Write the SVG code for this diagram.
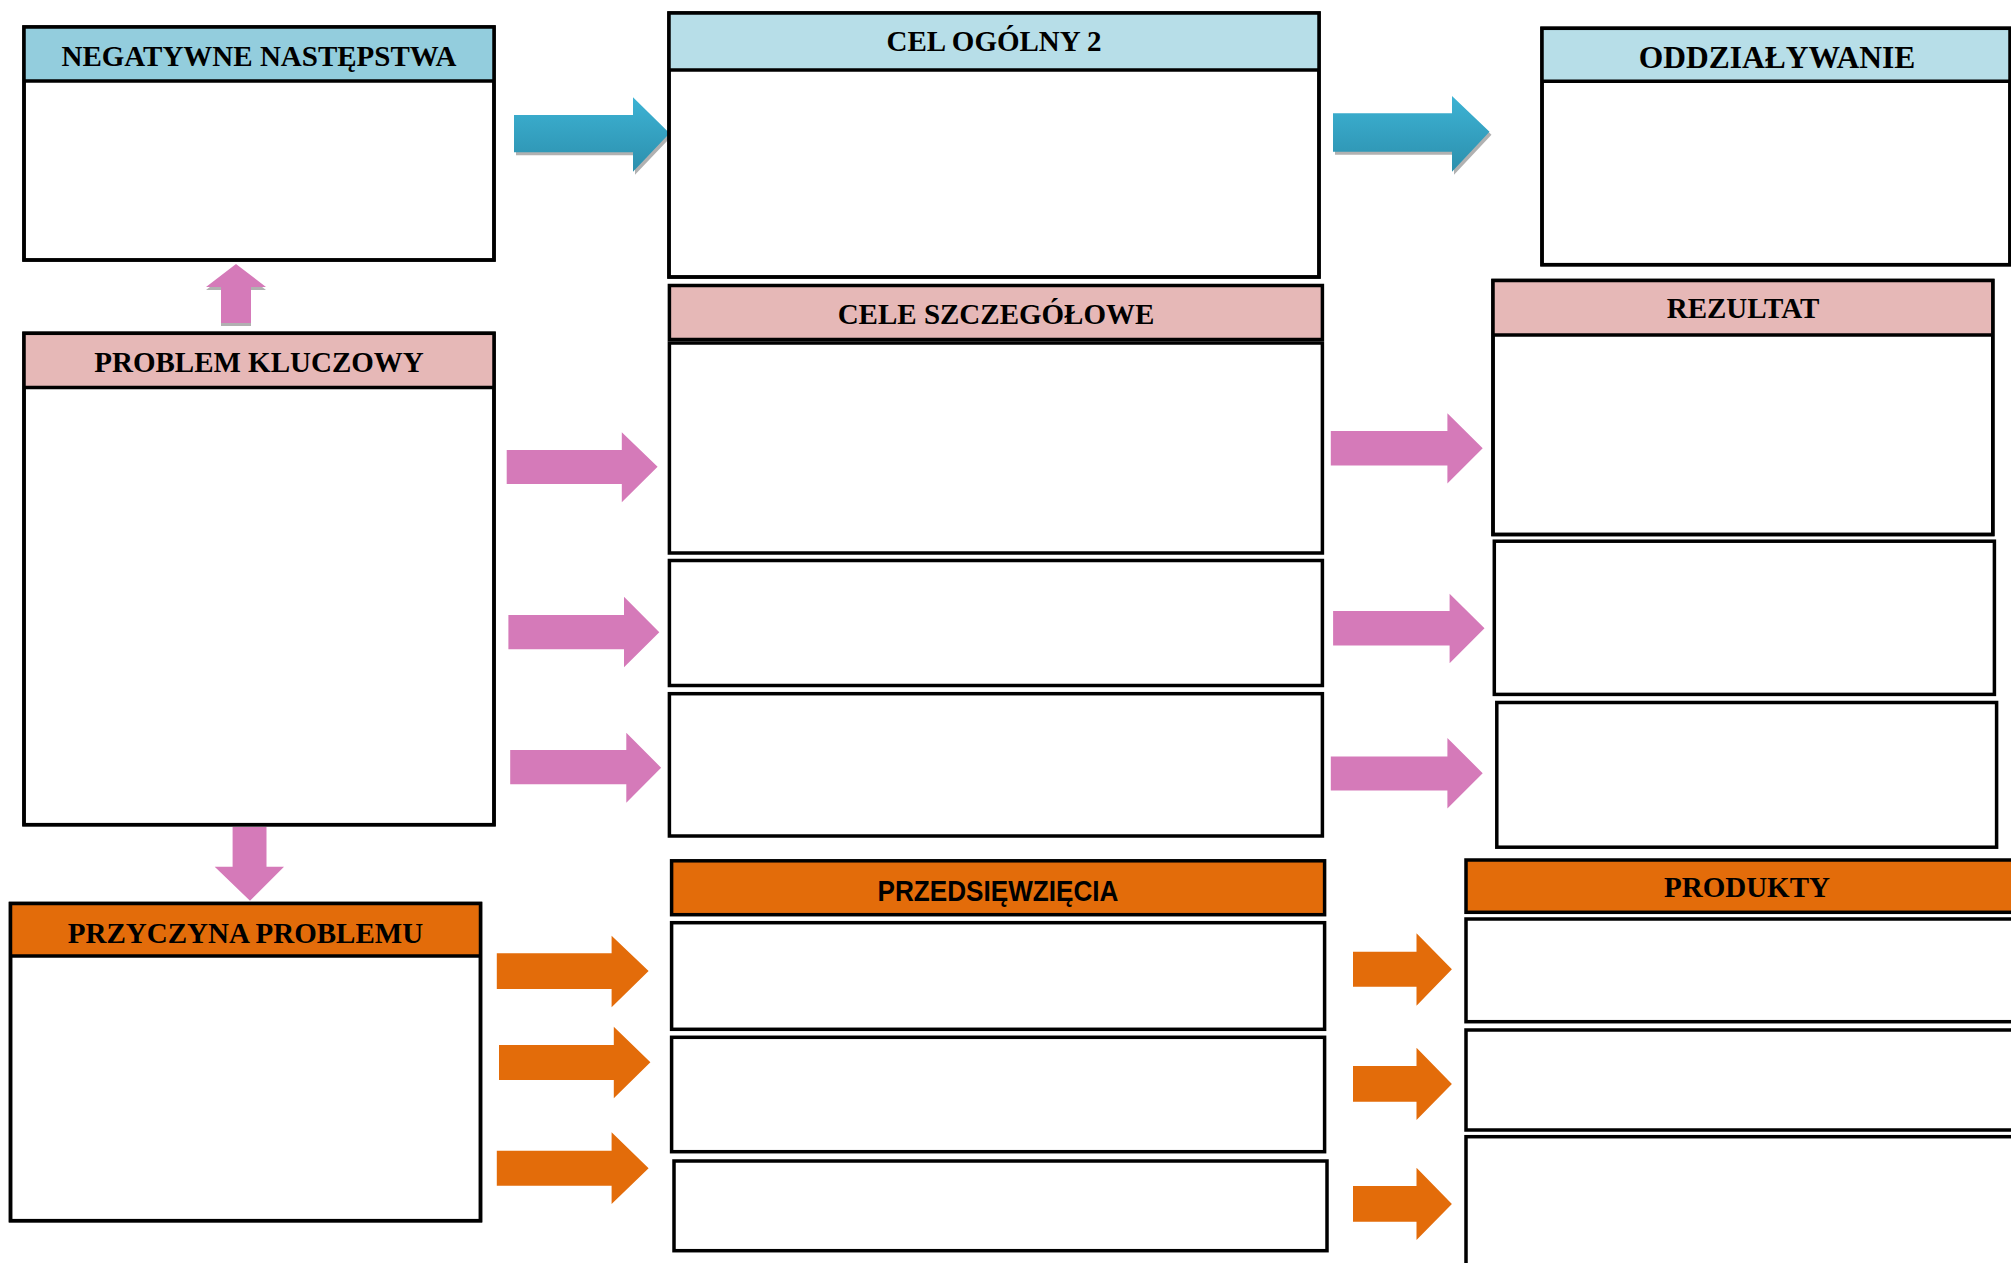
<svg xmlns="http://www.w3.org/2000/svg" width="2011" height="1263" viewBox="0 0 2011 1263">
<style>
.box{fill:#ffffff;stroke:#000000;stroke-width:3.5}
.hdr{stroke:#000000;stroke-width:3.5}
.div{stroke:#000000;stroke-width:3.5;fill:none}
.blue1{fill:#93CDDD}
.blue2{fill:#B7DEE8}
.pinkh{fill:#E6B8B7}
.orangeh{fill:#E36C0A}
.t{font-family:"Liberation Serif","Times New Roman",serif;font-weight:bold;font-size:29px;fill:#000000;text-anchor:middle}
.ts{font-family:"Liberation Sans",Arial,sans-serif;font-weight:bold;font-size:29px;fill:#000000}
.pa{fill:#D57AB9}
.oa{fill:#E36C0A}
.ba{fill:url(#blueGrad)}
.sh{fill:#9E9E9E;opacity:0.8}
</style>
<defs>
<linearGradient id="blueGrad" x1="0" y1="0" x2="0" y2="1">
<stop offset="0" stop-color="#3DB3D4"/>
<stop offset="1" stop-color="#2C8FAD"/>
</linearGradient>
</defs>
<rect x="0" y="0" width="2011" height="1263" fill="#ffffff"/>

<g id="connectors">
<!-- blue arrows with shadow -->
<polygon class="sh" transform="translate(2,3)" points="514,115 633,115 633,97.3 669.6,133.3 633,171.7 633,152.3 514,152.3"/>
<polygon class="ba" points="514,115 633,115 633,97.3 669.6,133.3 633,171.7 633,152.3 514,152.3"/>
<polygon class="sh" transform="translate(2,3)" points="1333,113.3 1452,113.3 1452,96 1489.5,131.7 1452,171.7 1452,151.7 1333,151.7"/>
<polygon class="ba" points="1333,113.3 1452,113.3 1452,96 1489.5,131.7 1452,171.7 1452,151.7 1333,151.7"/>
<!-- pink up arrow -->
<polygon class="sh" transform="translate(0,3)" points="236,264 266,287 251,287 251,323 221,323 221,287 206,287"/>
<polygon class="pa" points="236,264 266,287 251,287 251,323 221,323 221,287 206,287"/>
<!-- pink down arrow -->
<polygon class="pa" points="232.6,827 266.5,827 266.5,866.7 284,866.7 250,900.7 214.7,866.7 232.6,866.7"/>
<!-- pink left-to-middle -->
<polygon class="pa" points="506.7,450 621.8,450 621.8,432.3 657.6,466.7 621.8,502.3 621.8,484 506.7,484"/>
<polygon class="pa" points="508.4,615 624,615 624,596.7 659.3,632.3 624,667.3 624,649.3 508.4,649.3"/>
<polygon class="pa" points="510.2,750 626.3,750 626.3,732.7 661.1,767.7 626.3,802.7 626.3,784.3 510.2,784.3"/>
<!-- pink middle-to-right -->
<polygon class="pa" points="1330.8,431 1447.4,431 1447.4,413.2 1482.7,448.3 1447.4,483.5 1447.4,465.4 1330.8,465.4"/>
<polygon class="pa" points="1333.1,611.1 1449.6,611.1 1449.6,593.8 1484.5,628.2 1449.6,663.3 1449.6,645.6 1333.1,645.6"/>
<polygon class="pa" points="1330.8,756.6 1447.4,756.6 1447.4,738 1482.7,773.2 1447.4,808.4 1447.4,790.6 1330.8,790.6"/>
<!-- orange left-to-middle -->
<polygon class="oa" points="496.8,953.3 611.6,953.3 611.6,935.7 648.6,971 611.6,1007.3 611.6,989 496.8,989"/>
<polygon class="oa" points="499,1045 613.8,1045 613.8,1026.7 650.4,1062.3 613.8,1098.3 613.8,1080 499,1080"/>
<polygon class="oa" points="496.8,1150.7 611.6,1150.7 611.6,1132.3 648.6,1168.3 611.6,1204 611.6,1185.7 496.8,1185.7"/>
<!-- orange middle-to-right -->
<polygon class="oa" points="1353,951.7 1416.5,951.7 1416.5,933.3 1451.9,969.3 1416.5,1005.7 1416.5,986.7 1353,986.7"/>
<polygon class="oa" points="1353,1066 1416.5,1066 1416.5,1047.7 1451.9,1084 1416.5,1120 1416.5,1101.7 1353,1101.7"/>
<polygon class="oa" points="1353,1186 1416.5,1186 1416.5,1167.7 1451.9,1204 1416.5,1240 1416.5,1221.7 1353,1221.7"/>
</g>

<g id="negatywne-nastepstwa">
<rect class="box" x="24" y="27" width="470" height="233"/>
<rect class="blue1" x="24" y="27" width="470" height="54"/>
<rect class="div" x="24" y="27" width="470" height="233"/>
<line class="div" x1="24" y1="81" x2="494" y2="81"/>
<text class="t" x="259" y="66">NEGATYWNE NASTĘPSTWA</text>
</g>

<g id="cel-ogolny-2">
<rect class="box" x="669" y="13" width="650" height="264"/>
<rect class="blue2" x="669" y="13" width="650" height="57"/>
<rect class="div" x="669" y="13" width="650" height="264"/>
<line class="div" x1="669" y1="70" x2="1319" y2="70"/>
<text class="t" x="994" y="51">CEL OGÓLNY 2</text>
</g>

<g id="oddzialywanie">
<rect class="box" x="1542" y="28.3" width="468" height="236.4"/>
<rect class="blue2" x="1542" y="28.3" width="468" height="52.9"/>
<rect class="div" x="1542" y="28.3" width="468" height="236.4"/>
<line class="div" x1="1542" y1="81.2" x2="2010" y2="81.2"/>
<text class="t" x="1777" y="68" style="font-size:31.5px">ODDZIAŁYWANIE</text>
</g>

<g id="problem-kluczowy">
<rect class="box" x="24" y="333.3" width="470" height="491.4"/>
<rect class="pinkh" x="24" y="333.3" width="470" height="54.2"/>
<rect class="div" x="24" y="333.3" width="470" height="491.4"/>
<line class="div" x1="24" y1="387.5" x2="494" y2="387.5"/>
<text class="t" x="259" y="372">PROBLEM KLUCZOWY</text>
</g>

<g id="cele-szczegolowe">
<rect class="hdr pinkh" x="669.4" y="285.5" width="653" height="54"/>
<text class="t" x="996" y="324">CELE SZCZEGÓŁOWE</text>
<rect class="box" x="669.4" y="343" width="653" height="210"/>
<rect class="box" x="669.4" y="560.5" width="653" height="125"/>
<rect class="box" x="669.4" y="693.7" width="653" height="142.3"/>
</g>

<g id="rezultat">
<rect class="box" x="1493" y="280.5" width="499.8" height="254"/>
<rect class="pinkh" x="1493" y="280.5" width="499.8" height="54.5"/>
<rect class="div" x="1493" y="280.5" width="499.8" height="254"/>
<line class="div" x1="1493" y1="335" x2="1992.8" y2="335"/>
<text class="t" x="1743" y="318">REZULTAT</text>
<rect class="box" x="1494.3" y="541.2" width="500.1" height="153.2"/>
<rect class="box" x="1496.8" y="702.5" width="499.8" height="144.7"/>
</g>

<g id="przyczyna-problemu">
<rect class="box" x="10.5" y="903.5" width="470" height="317.2"/>
<rect class="orangeh" x="10.5" y="903.5" width="470" height="52.5"/>
<rect class="div" x="10.5" y="903.5" width="470" height="317.2"/>
<line class="div" x1="10.5" y1="956" x2="480.5" y2="956"/>
<text class="t" x="245.5" y="943">PRZYCZYNA PROBLEMU</text>
</g>

<g id="przedsiewziecia">
<rect class="hdr orangeh" x="671.6" y="860.8" width="653" height="53.9"/>
<text class="ts" x="877.5" y="900.7" textLength="241" lengthAdjust="spacingAndGlyphs">PRZEDSIĘWZIĘCIA</text>
<rect class="box" x="671.6" y="922.7" width="653" height="106.6"/>
<rect class="box" x="671.6" y="1037.3" width="653" height="114.4"/>
<rect class="box" x="674" y="1161" width="653" height="89.7"/>
</g>

<g id="produkty">
<rect class="hdr orangeh" x="1466" y="860" width="600" height="52.3"/>
<text class="t" x="1747" y="897">PRODUKTY</text>
<rect class="box" x="1466" y="919" width="600" height="102.7"/>
<rect class="box" x="1466" y="1030" width="600" height="100"/>
<rect class="box" x="1466" y="1136.7" width="600" height="200"/>
</g>
</svg>
